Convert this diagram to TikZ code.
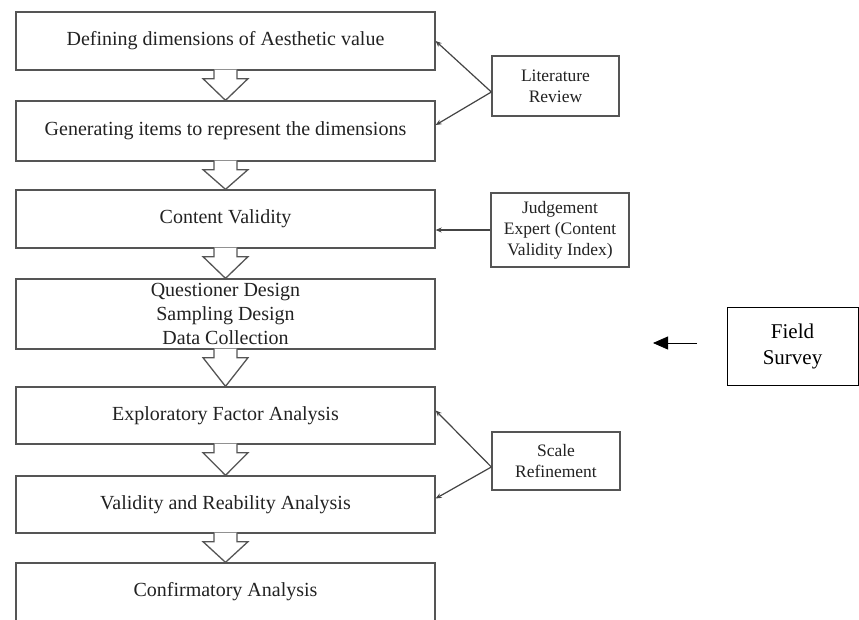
\documentclass[tikz,border=0pt]{standalone}
\usepackage{fontspec}
\setmainfont{Liberation Serif}
\usetikzlibrary{arrows.meta,calc}
\definecolor{boxgray}{HTML}{555555}
\definecolor{txtgray}{HTML}{222222}
\newcommand{\blockarr}[2]{%
  \draw[blockline] ($(#1.south)+(-11.5,-1)$) -- ($(#1.south)+(-11.5,8)$) -- ($(#1.south)+(-22.5,8)$)
    -- (#2.north) -- ($(#1.south)+(22.5,8)$) -- ($(#1.south)+(11.5,8)$) -- ($(#1.south)+(11.5,-1)$);}
\begin{document}
\begin{tikzpicture}[x=1pt,y=-1pt,
  mainbox/.style={draw=boxgray, line width=1.3pt, fill=white, minimum width=419pt, inner sep=0pt,
    text=txtgray, font=\fontsize{20}{24}\selectfont, align=center},
  maintext/.style={text=txtgray, font=\fontsize{20}{24}\selectfont, align=center, inner sep=0pt},
  sidebox/.style={draw=boxgray, line width=1.3pt, fill=white, inner sep=0pt,
    text=txtgray, font=\fontsize{17.5}{21}\selectfont, align=center},
  blockline/.style={draw=boxgray, line width=1.3pt, fill=white},
  sidearrow/.style={draw=boxgray!80!black, line width=1.2pt, -{Stealth[length=6pt,width=5pt]}}
]
\useasboundingbox (0,0) rectangle (859,619);
\clip (0,0) rectangle (859,619);
\fill[white] (0,0) rectangle (859,619);

\node[mainbox, minimum height=58pt] (b1) at (225.5,41) {Defining dimensions of Aesthetic value};
\node[mainbox, minimum height=60pt] (b2) at (225.5,131) {Generating items to represent the dimensions};
\node[mainbox, minimum height=58pt] (b3) at (225.5,219) {Content Validity};
\node[mainbox, minimum height=70pt] (b4) at (225.5,314) {};
\node[maintext] (b4t) at (225.5,314) {Questioner Design\\Sampling Design\\Data Collection};
\node[mainbox, minimum height=57pt] (b5) at (225.5,415.5) {Exploratory Factor Analysis};
\node[mainbox, minimum height=57pt] (b6) at (225.5,504.5) {Validity and Reability Analysis};
\node[mainbox, minimum height=62pt] (b7) at (225.5,594) {};
\node[maintext] (b7t) at (225.5,592) {Confirmatory Analysis};

\blockarr{b1}{b2}
\blockarr{b2}{b3}
\blockarr{b3}{b4}
\blockarr{b4}{b5}
\blockarr{b5}{b6}
\blockarr{b6}{b7}

\node[sidebox, minimum width=127pt, minimum height=60pt] (lit) at (555.5,86) {Literature\\Review};
\node[sidebox, minimum width=138pt, minimum height=74pt] (jud) at (560,230) {Judgement\\Expert (Content\\Validity Index)};
\node[draw=black, line width=0.8pt, inner sep=0pt, minimum width=131pt, minimum height=78pt,
  align=center, font=\fontsize{21}{26}\selectfont] (field) at (792.5,346) {Field\\Survey};
\node[sidebox, minimum width=128pt, minimum height=58pt] (scale) at (556,461) {Scale\\Refinement};

\draw[sidearrow] ([yshift=-6pt]lit.west) -- (b1.east);
\draw[sidearrow] ([yshift=-6pt]lit.west) -- ([yshift=6pt]b2.east);
\draw[sidearrow] (jud.west) -- (jud.west -| b3.east);
\draw[sidearrow] ([yshift=-6pt]scale.west) -- ([yshift=5pt]b5.east);
\draw[sidearrow] ([yshift=-6pt]scale.west) -- ([yshift=6pt]b6.east);

\coordinate (fs1) at (697,343);
\coordinate (fs2) at (653,343);
\draw[black, line width=0.8pt, -{Triangle[length=15pt,width=13pt]}] (fs1) -- (fs2);
\end{tikzpicture}
\end{document}
